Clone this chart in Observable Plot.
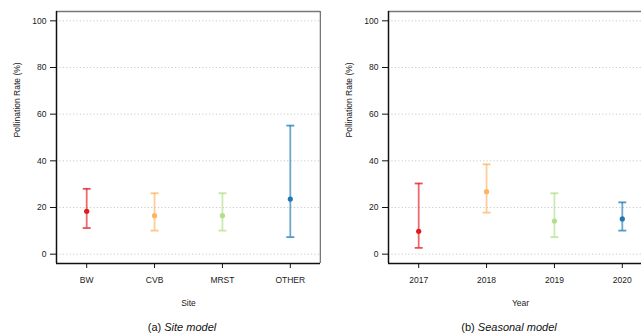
<!DOCTYPE html>
<html>
<head>
<meta charset="utf-8">
<script src="https://cdn.jsdelivr.net/npm/d3@7"></script>
<script src="https://cdn.jsdelivr.net/npm/@observablehq/plot@0.6"></script>
<style>
  html, body { margin: 0; padding: 0; background: #fff; overflow: hidden; }
  #wrap { position: relative; width: 641px; height: 336px; overflow: hidden; font-family: "Liberation Sans", Arial, sans-serif; }
  #left { position: absolute; left: 0; top: 0; }
  #right { position: absolute; left: 321px; top: 0; }
  .cap { position: absolute; top: 321px; font-size: 11px; color: #111; white-space: nowrap; transform: translateX(-50%); }
  svg { max-width: none !important; }
</style>
</head>
<body>
<div id="wrap">
  <div id="left"></div>
  <div id="right"></div>
  <div class="cap" style="left:182px">(a) <i>Site model</i></div>
  <div class="cap" style="left:509px">(b) <i>Seasonal model</i></div>
</div>
<script>
// Data
const sites = ["BW", "CVB", "MRST", "OTHER"];
const siteMean = [18.4, 16.5, 16.5, 23.6];
const siteLow = [11.2, 10.1, 10.1, 7.3];
const siteHigh = [28.0, 26.1, 26.1, 55.1];

const years = ["2017", "2018", "2019", "2020"];
const yearMean = [9.8, 26.8, 14.2, 15.1];
const yearLow = [2.7, 17.8, 7.3, 10.1];
const yearHigh = [30.3, 38.5, 26.1, 22.2];

const colors = ["#e31a1c", "#fdb462", "#b2df8a", "#1f78b4"];
const yTicks = [0, 20, 40, 60, 80, 100];

const capSymbol = {
  draw(ctx, size) {
    const r = Math.sqrt(size / Math.PI);
    ctx.moveTo(-r, 0);
    ctx.lineTo(r, 0);
  }
};

function panel(labels, mean, low, high, xLabel, marginLeft, width) {
  const data = labels.map((l, i) => ({i: i + 1, label: l, mean: mean[i], low: low[i], high: high[i], color: colors[i]}));
  const xDomain = [0.555, 4.445];
  const font = "Liberation Sans, Arial, sans-serif";
  return Plot.plot({
    width,
    height: 312,
    marginTop: 11,
    marginBottom: 49,
    marginLeft,
    marginRight: 1,
    style: {fontFamily: font, fontSize: "8.5px", color: "#222", background: "white"},
    x: {domain: xDomain, axis: null},
    y: {domain: [-4, 104], axis: null},
    marks: [
      Plot.ruleY(yTicks, {stroke: "#bdbdbd", strokeWidth: 0.8, strokeDasharray: "1.2,2.2"}),
      // gray top & right
      Plot.ruleY([104], {stroke: "#777", strokeWidth: 1.6}),
      Plot.ruleX([xDomain[1]], {stroke: "#777", strokeWidth: 1.6}),
      // black left & bottom
      Plot.ruleX([xDomain[0]], {stroke: "#111", strokeWidth: 1.5}),
      Plot.ruleY([-4], {stroke: "#111", strokeWidth: 1.5}),
      Plot.axisY(yTicks, {tickSize: 6, tickPadding: 4, fontSize: 8.5, stroke: "#111", fill: "#1a1a1a", label: null}),
      Plot.axisX([1, 2, 3, 4], {tickSize: 5, tickPadding: 8, fontSize: 8.5, stroke: "#111", fill: "#1a1a1a", label: null,
        tickFormat: (d) => labels[d - 1]}),
      Plot.text(["Pollination Rate (%)"], {frameAnchor: "left", dx: -39, rotate: -90, fontSize: 8.5, fill: "#1a1a1a"}),
      Plot.text([xLabel], {frameAnchor: "bottom", dy: 42, fontSize: 8.5, fill: "#1a1a1a"}),
      Plot.ruleX(data, {x: "i", y1: "low", y2: "high", stroke: "color", strokeWidth: 1.8, strokeOpacity: 0.65}),
      Plot.dot(data, {x: "i", y: "low", symbol: capSymbol, r: 4, stroke: "color", strokeWidth: 1.8, strokeOpacity: 0.75}),
      Plot.dot(data, {x: "i", y: "high", symbol: capSymbol, r: 4, stroke: "color", strokeWidth: 1.8, strokeOpacity: 0.75}),
      Plot.dot(data, {x: "i", y: "mean", r: 2.6, fill: "color", stroke: "none"})
    ]
  });
}

document.getElementById("left").appendChild(panel(sites, siteMean, siteLow, siteHigh, "Site", 56, 321));
document.getElementById("right").appendChild(panel(years, yearMean, yearLow, yearHigh, "Year", 67, 332));
</script>
</body>
</html>
